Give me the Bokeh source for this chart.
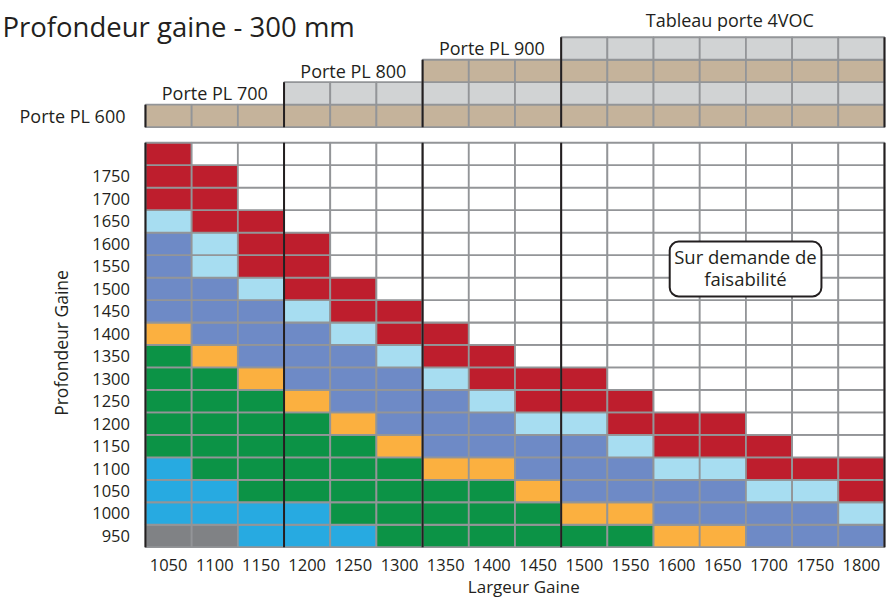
import math
from bokeh.plotting import figure
from bokeh.core.properties import value
from bokeh.embed import file_html
from bokeh.resources import INLINE

# ---------------- data ----------------
widths = ["1050", "1100", "1150", "1200", "1250", "1300", "1350", "1400",
          "1450", "1500", "1550", "1600", "1650", "1700", "1750", "1800"]
depths = ["950", "1000", "1050", "1100", "1150", "1200", "1250", "1300", "1350",
          "1400", "1450", "1500", "1550", "1600", "1650", "1700", "1750"]
n_rows = len(depths) + 1  # one extra unlabelled row on top

# cell class per width column, from depth 950 (bottom) upwards
# G grey, C cyan, N green, O orange, M mid blue, L light blue, R red, W empty
cell_classes = [
    "GCCCNNNNNOMMMMLRRR",  # 1050
    "GCCNNNNNOMMMLLRRRW",  # 1100
    "CCNNNNNOMMMLRRRWWW",  # 1150
    "CCNNNNOMMMLRRRWWWW",  # 1200
    "CNNNNOMMMLRRWWWWWW",  # 1250
    "NNNNOMMMLRRWWWWWWW",  # 1300
    "NNNOMMMLRRWWWWWWWW",  # 1350
    "NNNOMMLRRWWWWWWWWW",  # 1400
    "NNOMMLRRWWWWWWWWWW",  # 1450
    "NOMMMLRRWWWWWWWWWW",  # 1500
    "NOMMLRRWWWWWWWWWWW",  # 1550
    "OMMLRRWWWWWWWWWWWW",  # 1600
    "OMMLRRWWWWWWWWWWWW",  # 1650
    "MMLRRWWWWWWWWWWWWW",  # 1700
    "MMLRWWWWWWWWWWWWWW",  # 1750
    "MLRRWWWWWWWWWWWWWW",  # 1800
]

door_names = ["Porte PL 600", "Porte PL 700", "Porte PL 800", "Porte PL 900"]
door_first_width = ["1050", "1200", "1350", "1500"]
top_band_label = "Tableau porte 4VOC"
note_lines = ["Sur demande de", "faisabilité"]
title_text = "Profondeur gaine - 300 mm"
x_title = "Largeur Gaine"
y_title = "Profondeur Gaine"

# ---------------- styles ----------------
palette = {"G": "#808285", "C": "#27AAE1", "N": "#0C9346", "O": "#FBB040",
           "M": "#6E8AC6", "L": "#A7DDF1", "R": "#BE1E2D", "W": "#FFFFFF"}
band_colors = ["#C5B39B", "#D1D3D4"]
GRID = "#939598"
INK = "#231F20"
FONT = value("Open Sans")

n_cols = len(widths)
GAP = 0.694
band0 = n_rows - 0.5 + GAP

p = figure(width=888, height=597, x_range=(-3.639, 15.587), y_range=(-2.7385, 23.83),
           output_backend="svg", toolbar_location=None,
           x_axis_location=None, y_axis_location=None, min_border=0)
p.outline_line_color = None
p.grid.visible = False
p.background_fill_color = "white"
p.border_fill_color = "white"

# cells
L, R, B, T, F = [], [], [], [], []
for i, cls in enumerate(cell_classes):
    for j, c in enumerate(cls):
        L.append(i - 0.5); R.append(i + 0.5)
        B.append(j - 0.5); T.append(j + 0.5)
        F.append(palette[c])
p.quad(left=L, right=R, bottom=B, top=T, fill_color=F, line_color=GRID, line_width=1.8)

# door bands
starts = [widths.index(w) for w in door_first_width]
L, R, B, T, F = [], [], [], [], []
for k, s in enumerate(starts):
    for i in range(s, n_cols):
        L.append(i - 0.5); R.append(i + 0.5)
        B.append(band0 + k); T.append(band0 + k + 1)
        F.append(band_colors[k % 2])
p.quad(left=L, right=R, bottom=B, top=T, fill_color=F, line_color=GRID, line_width=1.8)

# black separators
x0, y0, x1, y1 = [], [], [], []
for k, s in enumerate(starts):
    x0.append(s - 0.5); x1.append(s - 0.5); y0.append(-0.5); y1.append(n_rows - 0.5)
    x0.append(s - 0.5); x1.append(s - 0.5); y0.append(band0); y1.append(band0 + k + 1)
x0 += [n_cols - 0.5, n_cols - 0.5]; x1 += [n_cols - 0.5, n_cols - 0.5]
y0 += [-0.5, band0]; y1 += [n_rows - 0.5, band0 + len(starts)]
p.segment(x0=x0, y0=y0, x1=x1, y1=y1, line_color=INK, line_width=2)

txt = dict(text_font=FONT, text_color=INK, text_baseline="middle")

# band labels
lx = [(starts[k - 1] + starts[k]) / 2 - 0.5 for k in range(1, len(starts))] + [12.15]
ly = [band0 + k + 0.5 for k in range(1, len(starts))] + [band0 + 4.75]
p.text(x=lx, y=ly, text=door_names[1:] + [top_band_label], text_font_size="18px",
       text_align="center", **txt)
p.text(x=[-0.933], y=[band0 + 0.5], text=[door_names[0]], text_font_size="18px",
       text_align="right", **txt)

# note box
p.quad(left=[10.85], right=[14.135], bottom=[10.66], top=[13.10], fill_color="white",
       line_color=INK, line_width=2, border_radius=9)
p.text(x=[12.49, 12.49], y=[12.44, 11.44], text=note_lines, text_font_size="18.5px",
       text_align="center", **txt)

# tick labels (category scales)
p.text(x=list(range(n_cols)), y=[-1.292] * n_cols, text=widths, text_font_size="16.5px",
       text_align="center", **txt)
p.text(x=[-0.836] * len(depths), y=list(range(len(depths))), text=depths,
       text_font_size="16.5px", text_align="right", **txt)

# axis titles and heading
p.text(x=[7.69], y=[-2.249], text=[x_title], text_font_size="17px",
       text_align="center", **txt)
p.text(x=[-2.329], y=[8.59], text=[y_title], text_font_size="17.5px", angle=math.pi / 2,
       text_align="center", **txt)
p.text(x=[-3.596], y=[22.68], text=[title_text], text_font_size="27.5px",
       text_align="left", **txt)

open("out.html", "w").write(file_html(p, INLINE))
